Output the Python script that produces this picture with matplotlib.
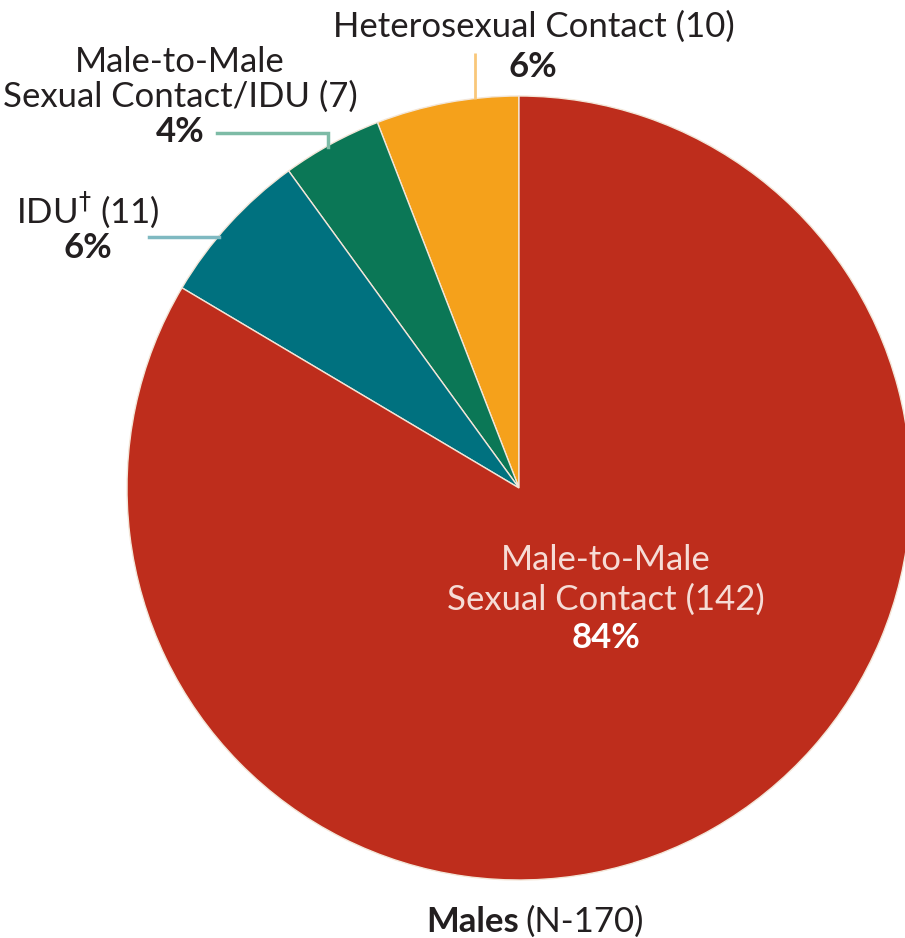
import matplotlib
matplotlib.use("Agg")
import matplotlib.pyplot as plt

# ---- data ----
categories = ["Heterosexual Contact", "Male-to-Male Sexual Contact/IDU", "IDU", "Male-to-Male Sexual Contact"]
counts = [10, 7, 11, 142]
percents = ["6%", "4%", "6%", "84%"]
colors = ["#F5A11B", "#0B7756", "#00717F", "#BE2D1C"]
total_label = "(N-170)"
group_label = "Males"

W, H = 905, 938
fig = plt.figure(figsize=(W / 100, H / 100), dpi=100)
ax = fig.add_axes([0, 0, 1, 1])

def Y(y):  # convert image-style y (top-down) to data y
    return H - y

cx, cy, R = 519, Y(488), 392
ax.pie(counts, colors=colors, startangle=90, counterclock=True,
       center=(cx, cy), radius=R,
       wedgeprops=dict(edgecolor="#f3e6d8", linewidth=1.0))
ax.set_xlim(0, W)
ax.set_ylim(0, H)
ax.set_aspect("auto")
ax.axis("off")

FONT = ["Lato", "DejaVu Sans"]
FS = 25
TXT = "#231f20"

def t(x, y, s, **kw):
    kw.setdefault("fontsize", FS)
    kw.setdefault("color", TXT)
    kw.setdefault("family", FONT)
    ax.text(x, Y(y), s, ha="center", va="baseline", **kw)

# Heterosexual contact label
t(534, 37, f"{categories[0]} ({counts[0]})")
t(533, 77, percents[0], fontweight="bold")
ax.plot([475, 475], [Y(53), Y(99)], color="#F9C77A", lw=2, solid_capstyle="butt")

# MSM/IDU label
t(180, 72, "Male-to-Male")
t(180, 107, f"Sexual Contact/IDU ({counts[1]})")
t(180, 142, percents[1], fontweight="bold")
ax.plot([217, 328, 328], [Y(133), Y(133), Y(147)], color="#7DBBA6", lw=2.5,
        solid_joinstyle="miter")

# IDU label
t(88, 223, f"IDU$^{{\u2020}}$ ({counts[2]})")
t(88, 258, percents[2], fontweight="bold")
ax.plot([149, 219], [Y(237), Y(237)], color="#7FB9C1", lw=2.5)

# MSM label inside the pie
t(606, 570, "Male-to-Male", color="#f6dcd6")
t(606, 610, f"Sexual Contact ({counts[3]})", color="#f6dcd6")
t(606, 648, percents[3], color="white", fontweight="bold")

# Bottom label
ax.text(519, Y(932), group_label, ha="right", va="baseline", fontsize=FS,
        family=FONT, fontweight="bold", color=TXT)
ax.text(525, Y(932), total_label, ha="left", va="baseline", fontsize=FS,
        family=FONT, color=TXT)

fig.savefig("out.png", dpi=100)
